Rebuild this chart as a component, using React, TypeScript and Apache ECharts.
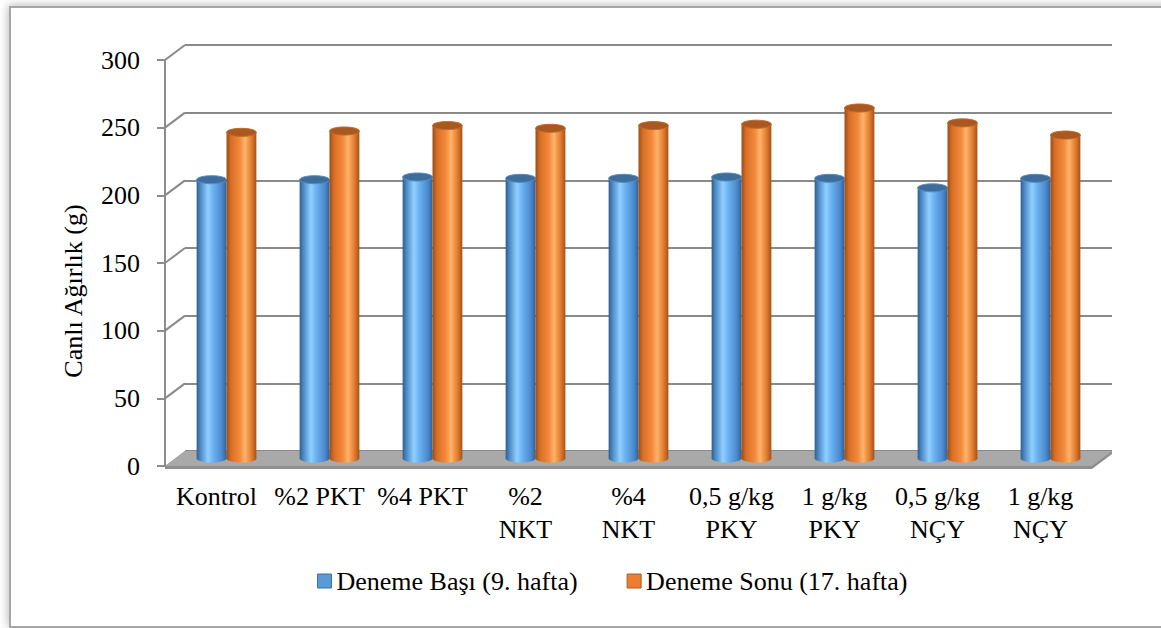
import React, { useEffect, useRef } from "react";
import * as echarts from "echarts";

// Treatment groups (axis labels carry their own line breaks)
const categories = [
  "Kontrol",
  "%2 PKT",
  "%4 PKT",
  "%2\nNKT",
  "%4\nNKT",
  "0,5 g/kg\nPKY",
  "1 g/kg\nPKY",
  "0,5 g/kg\nNÇY",
  "1 g/kg\nNÇY",
];

// Live weight (g)
const denemeBasi = [206, 206, 208, 207, 207, 208, 207, 200, 207];
const denemeSonu = [241, 242, 246, 244, 246, 247, 259, 248, 239];

const seriesNames = ["Deneme Başı (9. hafta)", "Deneme Sonu (17. hafta)"];
const yTicks = [0, 50, 100, 150, 200, 250, 300];
const yTitle = "Canlı Ağırlık (g)";

const FONT = "'Liberation Serif', 'Times New Roman', serif";
// depth offset of the pseudo-3D box (back wall relative to front)
const DX = 20;
const DY = -15;

const blueBody = () =>
  new echarts.graphic.LinearGradient(0, 0, 1, 0, [
    { offset: 0, color: "#2f5e8c" },
    { offset: 0.12, color: "#4a87c4" },
    { offset: 0.38, color: "#8fd0ff" },
    { offset: 0.55, color: "#6cb2f2" },
    { offset: 0.85, color: "#4a88cc" },
    { offset: 1, color: "#2f6198" },
  ]);
const orangeBody = () =>
  new echarts.graphic.LinearGradient(0, 0, 1, 0, [
    { offset: 0, color: "#9a4c18" },
    { offset: 0.15, color: "#d86f26" },
    { offset: 0.45, color: "#f3893a" },
    { offset: 0.62, color: "#ffb46a" },
    { offset: 0.85, color: "#e0782c" },
    { offset: 1, color: "#a2521a" },
  ]);

function cylinder(offsetFactor: number, body: () => any, topFill: string, topStroke: string) {
  return (params: any, api: any) => {
    const i = api.value(0);
    const v = api.value(1);
    const band = api.size([1, 0])[0];
    const r = band * 0.145;
    const top = api.coord([i, v]);
    const base = api.coord([i, 0]);
    const cx = top[0] + DX / 2 + offsetFactor * r;
    const ty = top[1] + DY / 2;
    const by = base[1] + DY / 2;
    const ry = r * 0.27;
    return {
      type: "group",
      children: [
        {
          type: "rect",
          shape: { x: cx - r, y: ty, width: 2 * r, height: by - ty },
          style: { fill: body() },
        },
        {
          type: "ellipse",
          shape: { cx, cy: by, rx: r, ry },
          style: { fill: body() },
        },
        {
          type: "ellipse",
          shape: { cx, cy: ty, rx: r, ry },
          style: { fill: topFill, stroke: topStroke, lineWidth: 1 },
        },
      ],
    };
  };
}

export default function App() {
  const ref = useRef<HTMLDivElement>(null);

  useEffect(() => {
    if (!ref.current) return;
    const chart = echarts.init(ref.current, undefined, { renderer: "svg" });

    const option: any = {
      animation: false,
      backgroundColor: "#ffffff",
      textStyle: { fontFamily: FONT },
      graphic: [
        {
          type: "rect",
          z: -10,
          shape: { x: 10, y: 7, width: 1170, height: 620 },
          style: {
            fill: "#ffffff",
            stroke: "#a6a6a6",
            lineWidth: 2,
            shadowBlur: 10,
            shadowColor: "rgba(0,0,0,0.28)",
            shadowOffsetX: -1,
            shadowOffsetY: -1,
          },
        },
        {
          type: "text",
          x: 73,
          y: 291,
          rotation: Math.PI / 2,
          style: {
            text: yTitle,
            fontSize: 26,
            fontFamily: FONT,
            fill: "#000000",
            align: "center",
            verticalAlign: "middle",
          },
        },
      ],
      legend: {
        left: 312,
        top: 563,
        itemWidth: 14,
        itemHeight: 14,
        itemGap: 49,
        textStyle: { fontSize: 26, color: "#000000", fontFamily: FONT },
        data: [
          { name: seriesNames[0], icon: "rect", itemStyle: { color: "#5b9bd5", borderColor: "#41719c", borderWidth: 1 } },
          { name: seriesNames[1], icon: "rect", itemStyle: { color: "#ed7d31", borderColor: "#ae5a21", borderWidth: 1 } },
        ],
      },
      grid: [
        { left: 165, top: 60, right: 69, bottom: 162 },
        { left: 165 + DX, top: 60 + DY, right: 69 - DX, bottom: 162 - DY },
      ],
      xAxis: [
        {
          type: "category",
          gridIndex: 0,
          data: categories,
          axisLine: { show: false },
          axisTick: { show: false },
          axisLabel: {
            interval: 0,
            margin: 14,
            fontSize: 26,
            lineHeight: 33,
            color: "#000000",
            fontFamily: FONT,
          },
        },
        { type: "category", gridIndex: 1, data: categories, show: false },
      ],
      yAxis: [
        {
          type: "value",
          gridIndex: 0,
          min: 0,
          max: 300,
          interval: 50,
          axisLine: { show: true, lineStyle: { color: "#8c8c8c", width: 2 } },
          axisTick: { show: true, length: 8, lineStyle: { color: "#8c8c8c", width: 2 } },
          axisLabel: { margin: 25, fontSize: 26, color: "#000000", fontFamily: FONT },
          splitLine: { show: false },
        },
        {
          type: "value",
          gridIndex: 1,
          min: 0,
          max: 300,
          interval: 50,
          axisLine: { show: false },
          axisTick: { show: false },
          axisLabel: { show: false },
          splitLine: { show: true, lineStyle: { color: "#8a8a8a", width: 2 } },
        },
      ],
      series: [
        {
          // floor slab
          type: "custom",
          xAxisIndex: 0,
          yAxisIndex: 0,
          silent: true,
          z: 2,
          data: [[0, 0]],
          renderItem: (params: any, api: any) => {
            const cs = params.coordSys;
            const y0 = api.coord([0, 0])[1];
            const x0 = cs.x;
            const x1 = cs.x + cs.width;
            return {
              type: "group",
              children: [
                {
                  type: "polygon",
                  shape: {
                    points: [
                      [x0, y0 + 3],
                      [x1, y0 + 3],
                      [x1 + DX, y0 + DY + 3],
                      [x1 + DX, y0 + DY],
                      [x0 + DX, y0 + DY],
                      [x0, y0],
                    ],
                  },
                  style: { fill: "#8f8f8f" },
                },
                {
                  type: "polygon",
                  shape: {
                    points: [
                      [x0, y0],
                      [x1, y0],
                      [x1 + DX, y0 + DY],
                      [x0 + DX, y0 + DY],
                    ],
                  },
                  style: { fill: "#a9a9a9" },
                },
              ],
            };
          },
        },
        {
          // side-wall edges joining front ticks to back gridlines
          type: "custom",
          xAxisIndex: 0,
          yAxisIndex: 0,
          silent: true,
          z: 2,
          data: yTicks.filter((t) => t > 0).map((t) => [0, t]),
          renderItem: (params: any, api: any) => {
            const cs = params.coordSys;
            const y = api.coord([0, api.value(1)])[1];
            return {
              type: "line",
              shape: { x1: cs.x, y1: y, x2: cs.x + DX, y2: y + DY },
              style: { stroke: "#8a8a8a", lineWidth: 2 },
            };
          },
        },
        {
          name: seriesNames[0],
          type: "custom",
          xAxisIndex: 0,
          yAxisIndex: 0,
          z: 3,
          itemStyle: { color: "#5b9bd5" },
          encode: { x: 0, y: 1 },
          data: denemeBasi.map((v, i) => [i, v]),
          renderItem: cylinder(-1, blueBody, "#3d6d9b", "#5b8dc0"),
        },
        {
          name: seriesNames[1],
          type: "custom",
          xAxisIndex: 0,
          yAxisIndex: 0,
          z: 3,
          itemStyle: { color: "#ed7d31" },
          encode: { x: 0, y: 1 },
          data: denemeSonu.map((v, i) => [i, v]),
          renderItem: cylinder(1, orangeBody, "#a9591f", "#c2692a"),
        },
      ],
    };

    chart.setOption(option);
    return () => chart.dispose();
  }, []);

  return (
    <div
      ref={ref}
      style={{ position: "fixed", left: 0, top: 0, width: 1161, height: 628 }}
    />
  );
}
